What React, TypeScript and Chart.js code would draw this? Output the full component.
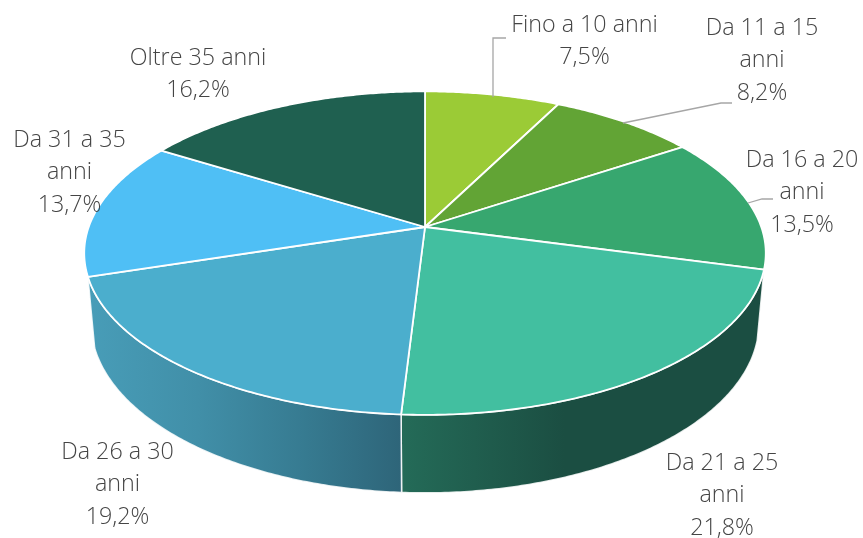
import React, { useEffect, useRef } from "react";
import { Chart, registerables } from "chart.js";

Chart.register(...registerables);

const categories = ["Fino a 10 anni", "Da 11 a 15 anni", "Da 16 a 20 anni", "Da 21 a 25 anni", "Da 26 a 30 anni", "Da 31 a 35 anni", "Oltre 35 anni"];
const shares = [7.5, 8.2, 13.5, 21.8, 19.2, 13.7, 16.2];
const categoryLines = [["Fino a 10 anni"], ["Da 11 a 15", "anni"], ["Da 16 a 20", "anni"], ["Da 21 a 25", "anni"], ["Da 26 a 30", "anni"], ["Da 31 a 35", "anni"], ["Oltre 35 anni"]];
const topColors = ["#9BCB36", "#62A435", "#37A76F", "#42BFA0", "#4BAECD", "#4FBFF5", "#1F6050"];

// label anchors: [centre x, first-line y]
const labelAnchors = [[584.5, 25], [762, 28], [802, 160], [722, 463], [117.5, 452], [69.5, 140], [198, 58]];
const leaders = [
  [[493, 97], [493, 38], [506, 38]],
  [[623, 123], [721, 103], [732, 103]],
  [[748, 203], [762, 199], [773, 199]],
];

const TILT = { xScale: 1.488, yScale: 0.697, persp: 0.1615, sideX: 0.98, sideY: 1.05, sideDrop: 68.6 };
const LINE_HEIGHT = 32.5;

function topPoint(arc: any, a: number): [number, number] {
  const u = Math.cos(a), v = Math.sin(a);
  const w = 1 - TILT.persp * v;
  return [
    arc.x + (arc.outerRadius * TILT.xScale * u) / w,
    arc.y + (arc.outerRadius * TILT.yScale * v) / w,
  ];
}

function lowPoint(arc: any, a: number): [number, number] {
  const [x, y] = topPoint(arc, a);
  return [arc.x + (x - arc.x) * TILT.sideX, arc.y + TILT.sideDrop + (y - arc.y) * TILT.sideY];
}

const steps = (s: number, e: number) => {
  const n = Math.max(2, Math.ceil((e - s) / 0.01));
  return Array.from({ length: n + 1 }, (_, i) => s + ((e - s) * i) / n);
};

const sideGradients: Record<number, [number, string][]> = {
  3: [[0, "#246B58"], [0.45, "#1B4E42"], [1, "#1B4E42"]],
  4: [[0, "#489DB8"], [0.35, "#418FA8"], [0.7, "#367A90"], [1, "#2E6579"]],
};

const pie3d = {
  id: "pie3d",
  beforeDatasetDraw(chart: any) {
    const ctx = chart.ctx as CanvasRenderingContext2D;
    const arcs = chart.getDatasetMeta(0).data as any[];
    ctx.save();
    // sides
    arcs.forEach((arc, i) => {
      const stops = sideGradients[i];
      if (!stops) return;
      const pts = steps(arc.startAngle, arc.endAngle);
      const top = pts.map((a) => topPoint(arc, a));
      const low = pts.map((a) => lowPoint(arc, a));
      const xs = [...top, ...low].map((p) => p[0]);
      const g = ctx.createLinearGradient(Math.min(...xs), 0, Math.max(...xs), 0);
      stops.forEach(([o, c]) => g.addColorStop(o, c));
      ctx.beginPath();
      top.forEach((p, k) => (k ? ctx.lineTo(p[0], p[1]) : ctx.moveTo(p[0], p[1])));
      low.reverse().forEach((p) => ctx.lineTo(p[0], p[1]));
      ctx.closePath();
      ctx.fillStyle = g;
      ctx.fill();
      ctx.strokeStyle = "rgba(255,255,255,0.85)";
      ctx.lineWidth = 1.5;
      ctx.stroke();
    });
    // top faces
    arcs.forEach((arc, i) => {
      ctx.beginPath();
      ctx.moveTo(arc.x, arc.y);
      steps(arc.startAngle, arc.endAngle).forEach((a) => {
        const p = topPoint(arc, a);
        ctx.lineTo(p[0], p[1]);
      });
      ctx.closePath();
      ctx.fillStyle = topColors[i];
      ctx.fill();
      ctx.strokeStyle = "#FFFFFF";
      ctx.lineWidth = 1.8;
      ctx.lineJoin = "round";
      ctx.stroke();
    });
    ctx.restore();
    return false;
  },
  afterDatasetsDraw(chart: any) {
    const ctx = chart.ctx as CanvasRenderingContext2D;
    ctx.save();
    ctx.strokeStyle = "#A6A6A6";
    ctx.lineWidth = 1.3;
    leaders.forEach((pts) => {
      ctx.beginPath();
      pts.forEach((p, k) => (k ? ctx.lineTo(p[0], p[1]) : ctx.moveTo(p[0], p[1])));
      ctx.stroke();
    });
    ctx.fillStyle = "#454545";
    ctx.font = '300 23.3px "Open Sans"';
    ctx.textAlign = "center";
    ctx.textBaseline = "middle";
    shares.forEach((v, i) => {
      const lines = [...categoryLines[i], v.toFixed(1).replace(".", ",") + "%"];
      const [x, y] = labelAnchors[i];
      lines.forEach((t, k) => ctx.fillText(t, x, y + k * LINE_HEIGHT));
    });
    ctx.restore();
  },
};

export default function App() {
  const ref = useRef<HTMLCanvasElement>(null);
  useEffect(() => {
    document.body.style.margin = "0";
    document.body.style.background = "#FFFFFF";
    const chart = new Chart(ref.current!, {
      type: "pie",
      data: {
        labels: categories,
        datasets: [{ data: shares, backgroundColor: topColors, borderColor: "#FFFFFF", borderWidth: 2 }],
      },
      options: {
        responsive: false,
        animation: false,
        layout: { padding: { left: 0, right: 13, top: 0, bottom: 84 } },
        plugins: { legend: { display: false }, tooltip: { enabled: false } },
      },
      plugins: [pie3d],
    } as any);
    return () => chart.destroy();
  }, []);
  return <canvas ref={ref} width={863} height={538} style={{ display: "block" }} />;
}
